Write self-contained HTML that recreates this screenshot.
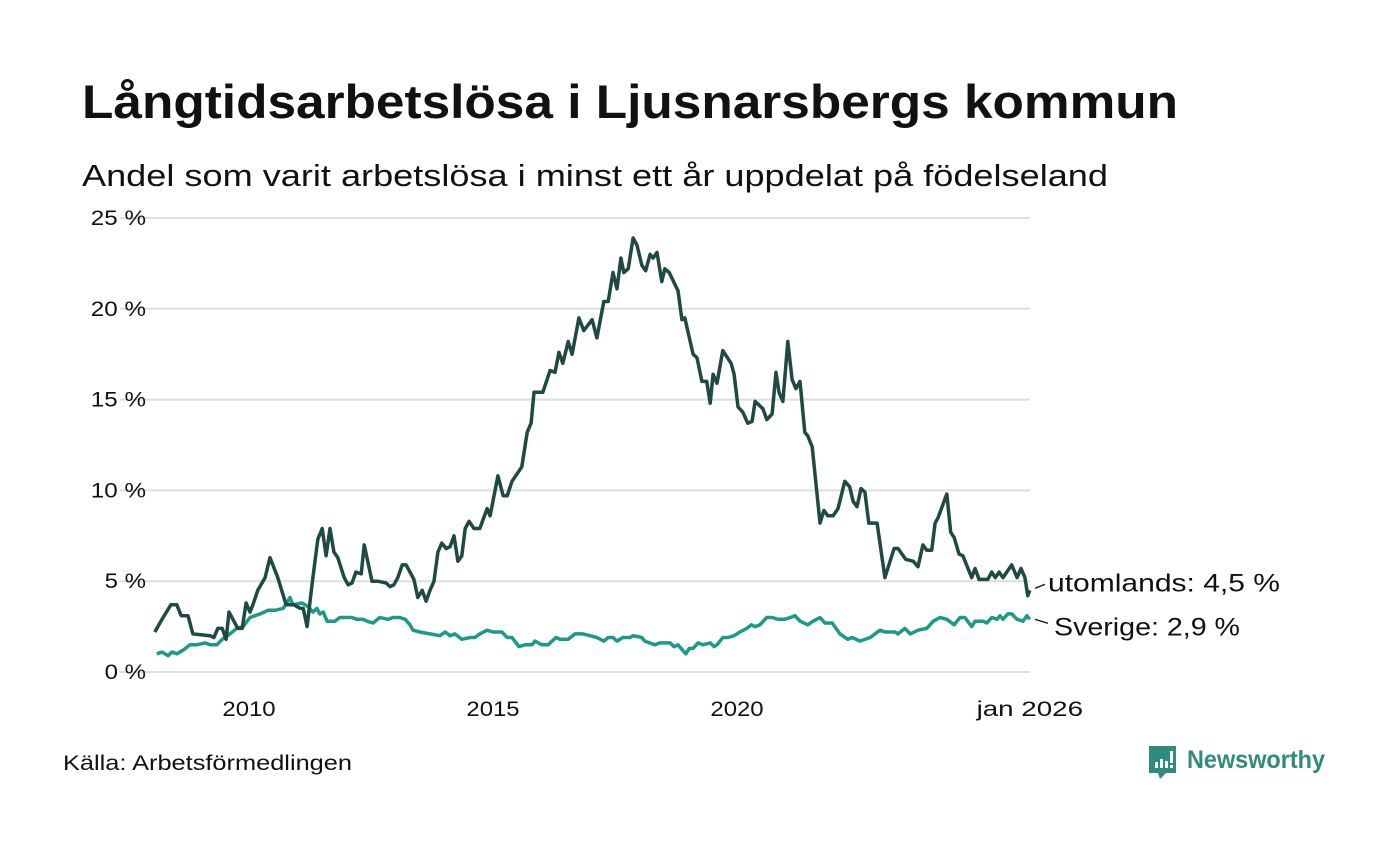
<!DOCTYPE html>
<html><head><meta charset="utf-8">
<style>
body{margin:0;background:#fff;width:1400px;height:840px;overflow:hidden;font-family:"Liberation Sans","DejaVu Sans",sans-serif;}
</style></head>
<body>
<svg id="chart" width="1400" height="840" xmlns="http://www.w3.org/2000/svg">
<text x="82" y="118" font-family="Liberation Sans, sans-serif" font-weight="bold" font-size="47" fill="#111" textLength="1096" lengthAdjust="spacingAndGlyphs">Långtidsarbetslösa i Ljusnarsbergs kommun</text>
<text x="82" y="186" font-family="Liberation Sans, sans-serif" font-size="31" fill="#111" textLength="1026" lengthAdjust="spacingAndGlyphs">Andel som varit arbetslösa i minst ett år uppdelat på födelseland</text>
<g id="grid"></g>
<g id="yticks"></g>
<g id="xticks"></g>
<g id="lines"></g>
<text x="63" y="770" font-size="21" fill="#111" textLength="289" lengthAdjust="spacingAndGlyphs">Källa: Arbetsförmedlingen</text>
<g>
<path d="M1149 746 h27 v27 h-10 l-6 6 l-2 -6 h-9 z" fill="#2f8b7d"/>
<rect x="1155" y="762" width="3" height="6" fill="#fff"/>
<rect x="1160" y="759" width="3" height="9" fill="#fff"/>
<rect x="1165" y="761" width="3" height="7" fill="#fff"/>
<rect x="1170" y="751" width="3" height="12" fill="#fff"/>
<rect x="1170" y="765" width="3" height="3" fill="#fff"/>
<text x="1187" y="768" font-size="25" font-weight="bold" fill="#2f8b7d" textLength="138" lengthAdjust="spacingAndGlyphs">Newsworthy</text>
</g>
</svg>
<script>
const yTicks=[0,5,10,15,20,25];
const yTickLabels=["0 %","5 %","10 %","15 %","20 %","25 %"];
const xTicks=[2010,2015,2020,2026];
const xTickLabels=["2010","2015","2020","jan 2026"];
const abroadDates=[2008.07,2008.24,2008.40,2008.52,2008.61,2008.75,2008.85,2009.20,2009.28,2009.36,2009.45,2009.53,2009.59,2009.77,2009.86,2009.94,2010.02,2010.08,2010.18,2010.33,2010.43,2010.59,2010.76,2010.92,2011.05,2011.11,2011.19,2011.29,2011.41,2011.50,2011.58,2011.66,2011.74,2011.82,2011.95,2012.03,2012.11,2012.19,2012.30,2012.36,2012.44,2012.52,2012.64,2012.81,2012.89,2012.97,2013.05,2013.14,2013.22,2013.30,2013.38,2013.46,2013.55,2013.63,2013.71,2013.79,2013.87,2013.95,2014.04,2014.12,2014.20,2014.28,2014.36,2014.43,2014.51,2014.61,2014.73,2014.88,2014.94,2015.10,2015.21,2015.29,2015.39,2015.59,2015.70,2015.78,2015.84,2016.02,2016.17,2016.27,2016.35,2016.43,2016.54,2016.62,2016.76,2016.86,2017.03,2017.13,2017.27,2017.36,2017.46,2017.54,2017.62,2017.68,2017.77,2017.87,2017.95,2018.05,2018.13,2018.22,2018.28,2018.36,2018.46,2018.52,2018.61,2018.77,2018.79,2018.87,2018.93,2019.10,2019.18,2019.28,2019.38,2019.45,2019.51,2019.59,2019.71,2019.88,2019.94,2020.02,2020.12,2020.22,2020.31,2020.37,2020.53,2020.61,2020.72,2020.80,2020.86,2020.94,2021.04,2021.13,2021.21,2021.29,2021.39,2021.45,2021.54,2021.70,2021.78,2021.86,2021.97,2022.07,2022.21,2022.31,2022.38,2022.46,2022.54,2022.62,2022.70,2022.87,2023.03,2023.22,2023.30,2023.46,2023.61,2023.71,2023.81,2023.89,2023.99,2024.06,2024.12,2024.30,2024.38,2024.45,2024.55,2024.63,2024.81,2024.88,2024.96,2025.14,2025.22,2025.29,2025.37,2025.45,2025.63,2025.74,2025.82,2025.90,2025.96,2026.0];
const abroadValues=[2.2,3.0,3.7,3.7,3.1,3.1,2.1,2.0,1.9,2.4,2.4,1.8,3.3,2.4,2.4,3.8,3.3,3.7,4.5,5.2,6.3,5.2,3.7,3.7,3.5,3.5,2.5,4.8,7.3,7.9,6.4,7.9,6.6,6.3,5.2,4.8,4.9,5.5,5.4,7.0,6.0,5.0,5.0,4.9,4.7,4.8,5.2,5.9,5.9,5.5,5.1,4.1,4.5,3.9,4.5,5.0,6.6,7.1,6.8,6.9,7.5,6.1,6.4,7.9,8.3,7.9,7.9,9.0,8.6,10.8,9.7,9.7,10.5,11.3,13.2,13.7,15.4,15.4,16.6,16.5,17.6,17.0,18.2,17.5,19.5,18.8,19.4,18.4,20.4,20.4,22.0,21.1,22.8,22.0,22.2,23.9,23.5,22.4,22.1,23.0,22.8,23.1,21.5,22.2,22.0,21.1,21.0,19.4,19.5,17.5,17.3,16.0,16.0,14.8,16.4,15.9,17.7,17.0,16.4,14.6,14.3,13.7,13.8,14.9,14.5,13.9,14.2,16.5,15.4,14.9,18.2,16.1,15.6,16.0,13.2,13.0,12.4,8.2,8.9,8.6,8.6,9.0,10.5,10.2,9.4,9.1,10.1,9.9,8.2,8.2,5.2,6.8,6.8,6.2,6.1,5.8,7.0,6.7,6.7,8.2,8.5,9.8,7.7,7.4,6.5,6.4,5.2,5.7,5.1,5.1,5.5,5.2,5.5,5.2,5.9,5.2,5.7,5.2,4.2,4.5];
const swedenDates=[2008.11,2008.22,2008.34,2008.42,2008.52,2008.65,2008.79,2008.93,2009.10,2009.20,2009.34,2009.45,2009.61,2009.75,2009.88,2010.02,2010.23,2010.39,2010.53,2010.70,2010.84,2010.90,2011.09,2011.21,2011.31,2011.39,2011.45,2011.52,2011.60,2011.76,2011.86,2011.97,2012.11,2012.21,2012.34,2012.42,2012.54,2012.68,2012.85,2012.95,2013.09,2013.20,2013.30,2013.36,2013.50,2013.71,2013.91,2014.02,2014.12,2014.22,2014.36,2014.53,2014.63,2014.73,2014.88,2015.00,2015.18,2015.29,2015.39,2015.53,2015.66,2015.80,2015.86,2016.00,2016.13,2016.29,2016.37,2016.54,2016.68,2016.84,2016.99,2017.13,2017.27,2017.36,2017.46,2017.54,2017.66,2017.81,2017.87,2018.05,2018.11,2018.32,2018.42,2018.63,2018.71,2018.79,2018.95,2019.02,2019.10,2019.20,2019.30,2019.45,2019.53,2019.59,2019.71,2019.82,2019.94,2020.06,2020.20,2020.29,2020.37,2020.47,2020.61,2020.72,2020.84,2020.98,2021.09,2021.19,2021.29,2021.45,2021.56,2021.70,2021.80,2021.95,2022.11,2022.27,2022.36,2022.52,2022.73,2022.93,2023.03,2023.24,2023.30,2023.44,2023.55,2023.71,2023.89,2024.02,2024.16,2024.30,2024.45,2024.57,2024.67,2024.81,2024.88,2025.04,2025.12,2025.22,2025.33,2025.39,2025.45,2025.55,2025.63,2025.74,2025.86,2025.94,2026.0];
const swedenValues=[1.0,1.1,0.9,1.1,1.0,1.2,1.5,1.5,1.6,1.5,1.5,1.8,2.1,2.4,2.5,3.0,3.2,3.4,3.4,3.5,4.1,3.7,3.8,3.6,3.3,3.5,3.2,3.3,2.8,2.8,3.0,3.0,3.0,2.9,2.9,2.8,2.7,3.0,2.9,3.0,3.0,2.9,2.6,2.3,2.2,2.1,2.0,2.2,2.0,2.1,1.8,1.9,1.9,2.1,2.3,2.2,2.2,1.9,1.9,1.4,1.5,1.5,1.7,1.5,1.5,1.9,1.8,1.8,2.1,2.1,2.0,1.9,1.7,1.9,1.9,1.7,1.9,1.9,2.0,1.9,1.7,1.5,1.6,1.6,1.4,1.5,1.0,1.3,1.3,1.6,1.5,1.6,1.4,1.5,1.9,1.9,2.0,2.2,2.4,2.6,2.5,2.6,3.0,3.0,2.9,2.9,3.0,3.1,2.8,2.6,2.8,3.0,2.7,2.7,2.1,1.8,1.9,1.7,1.9,2.3,2.2,2.2,2.1,2.4,2.1,2.3,2.4,2.8,3.0,2.9,2.6,3.0,3.0,2.5,2.8,2.8,2.7,3.0,2.9,3.1,2.9,3.2,3.2,2.9,2.8,3.1,2.9];
const seriesNames=["utomlands: 4,5 %","Sverige: 2,9 %"];

const NS="http://www.w3.org/2000/svg";
const X0=2010,PX0=249,PXY=48.8;
const xs=d=>PX0+(d-X0)*PXY;
const Y0=672,PYU=18.16;
const ys=v=>Y0-v*PYU;
function el(t,a,p){const e=document.createElementNS(NS,t);for(const k in a)e.setAttribute(k,a[k]);p.appendChild(e);return e;}
const grid=document.getElementById('grid'),yt=document.getElementById('yticks'),xt=document.getElementById('xticks'),lines=document.getElementById('lines');
yTicks.forEach((v,i)=>{
  const l=el('line',{x1:120,x2:1030,y1:ys(v),y2:ys(v),stroke:'#dedde2','stroke-width':2},grid);
  
  
  const t=el('text',{x:146,y:ys(v)+7,'text-anchor':'end','font-size':21,fill:'#111',textLength:yTickLabels[i].length*13.8,lengthAdjust:'spacingAndGlyphs'},yt);
  t.textContent=yTickLabels[i];
  
  
});
xTicks.forEach((v,i)=>{
  const t=el('text',{x:xs(v),y:716,'text-anchor':'middle','font-size':21,fill:'#111',textLength:xTickLabels[i].length*13.3,lengthAdjust:'spacingAndGlyphs'},xt);
  t.textContent=xTickLabels[i];
  
  
});
function drawLine(dates,vals,color,name){
  const d=dates.map((x,i)=>(i?'L':'M')+xs(x).toFixed(1)+' '+ys(vals[i]).toFixed(1)).join(' ');
  const p=el('path',{d:d,fill:'none',stroke:color,'stroke-width':3.5,'stroke-linejoin':'round'},lines);
  
  
}
drawLine(swedenDates,swedenValues,'#1d9a87','line-sverige');
drawLine(abroadDates,abroadValues,'#1e4a43','line-utomlands');
const lastA=abroadValues[abroadValues.length-1],lastS=swedenValues[swedenValues.length-1];
const la=el('line',{x1:1035,x2:1045,y1:ys(lastA)-2,y2:ys(lastA)-6,stroke:'#222','stroke-width':1.5},lines);


const ls=el('line',{x1:1035,x2:1048,y1:ys(lastS),y2:ys(lastS)+4,stroke:'#222','stroke-width':1.5},lines);


const ta=el('text',{x:1048,y:ys(lastA)+1,'font-size':25,fill:'#111',textLength:232,lengthAdjust:'spacingAndGlyphs'},lines);
ta.textContent=seriesNames[0];


const ts=el('text',{x:1054,y:ys(lastS)+16,'font-size':25,fill:'#111',textLength:186,lengthAdjust:'spacingAndGlyphs'},lines);
ts.textContent=seriesNames[1];


</script>
</body></html>
